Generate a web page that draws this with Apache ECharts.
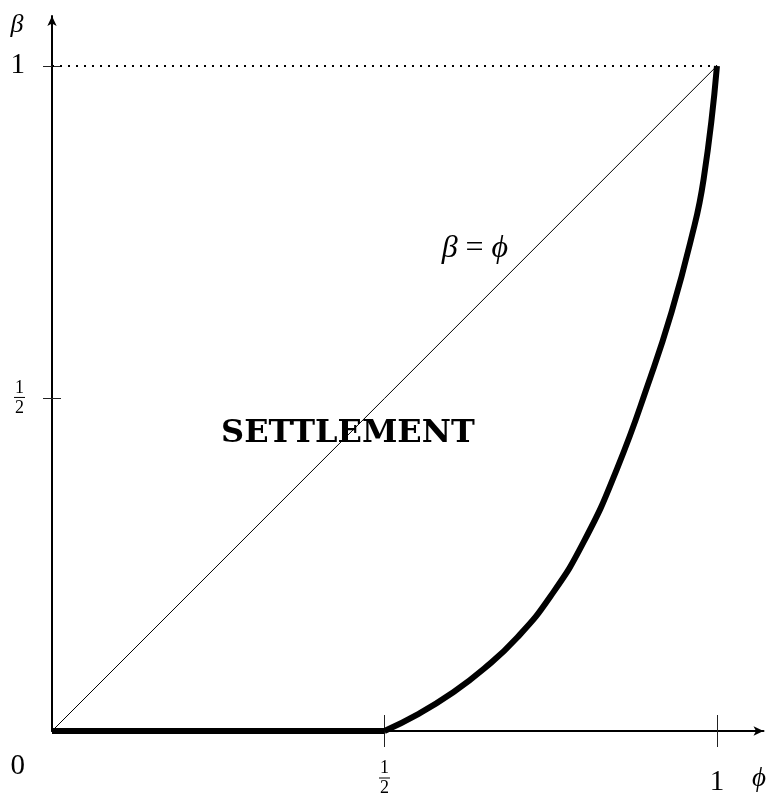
<!DOCTYPE html>
<html>
<head>
<meta charset="utf-8">
<style>
  html, body { margin: 0; padding: 0; background: #fff; }
  #chart { width: 770px; height: 805px; }
</style>
<script src="https://cdn.jsdelivr.net/npm/echarts@6/dist/echarts.min.js"></script>
</head>
<body>
<div id="chart"></div>
<script>
// values (phi on x, beta on y)
const diagonal = [[0, 0], [1, 1]]
const topLine = [[0, 1], [1, 1]]
const flatPart = [[0, 0], [0.5, 0]]
const curvePhi = [0.5, 0.55, 0.6, 0.65, 0.7, 0.75, 0.8, 0.85, 0.9, 0.93, 0.96, 0.98, 1.0]
const curveBeta = [0, 0.025, 0.056, 0.094, 0.141, 0.203, 0.285, 0.395, 0.532, 0.624, 0.735, 0.830, 1.0]
const xTicks = [0.5, 1]
const yTicks = [0.5, 1]
const yLabels = [0, 0.5, 1]
const notes = [
  { name: 'SETTLEMENT', value: [0.445, 0.447] },
  { name: 'beta', value: [0.636, 0.725] }
]

const SERIF = '"Liberation Serif", "DejaVu Serif", serif'
const black = '#000'

const frac = {
  n: { fontFamily: SERIF, fontSize: 18, lineHeight: 15, align: 'center', color: black },
  b: { width: 11, height: 1, backgroundColor: black, lineHeight: 4, align: 'center' },
  d: { fontFamily: SERIF, fontSize: 18, lineHeight: 17, align: 'center', color: black },
  one: { fontFamily: SERIF, fontSize: 29, lineHeight: 42, color: black },
  z: { fontFamily: SERIF, fontSize: 29, lineHeight: 30, padding: [70, 0, 0, 0], color: black }
}

function fmt(v) {
  if (v === 0) return '{z|0}'
  if (v === 0.5) return '{n|1}\n{b| }\n{d|2}'
  return '{one|1}'
}

const curve = curvePhi.map((x, i) => [x, curveBeta[i]])

const axisBase = {
  type: 'value', min: 0, splitLine: { show: false }
}

const chart = echarts.init(document.getElementById('chart'))
chart.setOption({
  animation: false,
  backgroundColor: '#fff',
  grid: { left: 52, right: 6.5, top: 16, bottom: 74, containLabel: false, outerBoundsMode: 'none' },
  xAxis: [
    Object.assign({}, axisBase, {
      max: 1.07,
      name: 'ϕ',
      nameLocation: 'end',
      nameGap: -4.5,
      nameTextStyle: { fontFamily: SERIF, fontStyle: 'italic', fontSize: 27, color: black,
        align: 'center', verticalAlign: 'top', padding: [34, 0, 0, 0] },
      axisLine: { lineStyle: { color: black, width: 2 }, symbol: ['none', 'arrow'], symbolSize: [7, 10] },
      axisTick: { customValues: xTicks, length: 16, lineStyle: { color: '#222', width: 1 } },
      axisLabel: { customValues: xTicks, margin: 30, formatter: fmt, rich: frac }
    }),
    Object.assign({}, axisBase, {
      max: 1.07, position: 'bottom',
      axisLine: { show: false },
      axisTick: { customValues: xTicks, inside: true, length: 16, lineStyle: { color: '#222', width: 1 } },
      axisLabel: { show: false }
    })
  ],
  yAxis: [
    Object.assign({}, axisBase, {
      max: 1.075,
      name: 'β',
      nameLocation: 'end',
      nameGap: -9,
      nameTextStyle: { fontFamily: SERIF, fontStyle: 'italic', fontSize: 26, color: black,
        align: 'center', verticalAlign: 'middle', padding: [0, 70, 0, 0] },
      axisLine: { lineStyle: { color: black, width: 2 }, symbol: ['none', 'arrow'], symbolSize: [7, 10] },
      axisTick: { customValues: yTicks, length: 9, lineStyle: { color: '#222', width: 1 } },
      axisLabel: { customValues: yLabels, margin: 27, formatter: fmt, rich: frac }
    }),
    Object.assign({}, axisBase, {
      max: 1.075, position: 'left',
      axisLine: { show: false },
      axisTick: { customValues: yTicks, inside: true, length: 9, lineStyle: { color: '#222', width: 1 } },
      axisLabel: { show: false }
    })
  ],
  series: [
    {
      type: 'line', data: topLine, symbol: 'none', silent: true,
      lineStyle: { color: black, width: 2, type: [2, 6] }
    },
    {
      type: 'line', data: diagonal, symbol: 'none', silent: true,
      lineStyle: { color: black, width: 1 }
    },
    {
      type: 'line', data: flatPart, symbol: 'none', silent: true,
      lineStyle: { color: black, width: 6 }
    },
    {
      type: 'line', data: curve, symbol: 'none', smooth: 0.5, silent: true,
      lineStyle: { color: black, width: 6 }
    },
    {
      type: 'scatter', data: notes, symbolSize: 0, silent: true,
      itemStyle: { opacity: 1 },
      label: {
        show: true, position: 'inside', color: black, opacity: 1, textBorderWidth: 0,
        formatter: p => p.name === 'beta' ? '{i|β}{r|=}{i|ϕ}' : '{s|SETTLEMENT}',
        rich: {
          i: { fontFamily: SERIF, fontStyle: 'italic', fontSize: 32, color: black },
          r: { fontFamily: SERIF, fontSize: 32, color: black, padding: [0, 8, 0, 8] },
          s: { fontFamily: '"DejaVu Serif", serif', fontWeight: 'bold', fontSize: 32, color: black }
        }
      }
    }
  ]
})
</script>
</body>
</html>
